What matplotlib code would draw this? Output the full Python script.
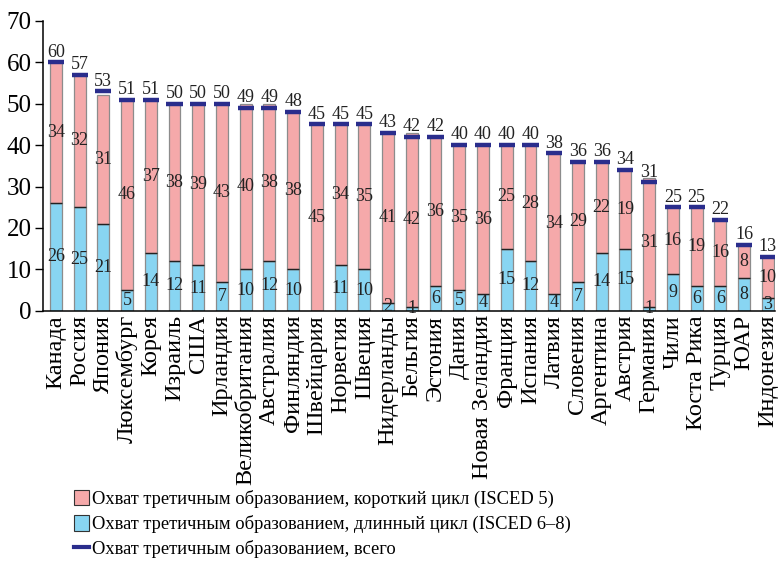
import matplotlib
matplotlib.use("Agg")
import matplotlib.pyplot as plt
from matplotlib.patches import Patch
from matplotlib.lines import Line2D
import numpy as np

countries = ["Канада", "Россия", "Япония", "Люксембург", "Корея", "Израиль", "США",
             "Ирландия", "Великобритания", "Австралия", "Финляндия", "Швейцария",
             "Норвегия", "Швеция", "Нидерланды", "Бельгия", "Эстония", "Дания",
             "Новая Зеландия", "Франция", "Испания", "Латвия", "Словения",
             "Аргентина", "Австрия", "Германия", "Чили", "Коста Рика", "Турция",
             "ЮАР", "Индонезия"]
long_cycle = [26, 25, 21, 5, 14, 12, 11, 7, 10, 12, 10, 0, 11, 10, 2, 1, 6, 5, 4,
              15, 12, 4, 7, 14, 15, 1, 9, 6, 6, 8, 3]
short_cycle = [34, 32, 31, 46, 37, 38, 39, 43, 40, 38, 38, 45, 34, 35, 41, 42, 36,
               35, 36, 25, 28, 34, 29, 22, 19, 31, 16, 19, 16, 8, 10]
total = [60, 57, 53, 51, 51, 50, 50, 50, 49, 49, 48, 45, 45, 45, 43, 42, 42, 40,
         40, 40, 40, 38, 36, 36, 34, 31, 25, 25, 22, 16, 13]

legend_labels = ["Охват третичным образованием, короткий цикл (ISCED 5)",
                 "Охват третичным образованием, длинный цикл (ISCED 6–8)",
                 "Охват третичным образованием, всего"]

PINK = "#f5a9aa"
BLUE = "#88d5f2"
NAVY = "#2a2d8c"

plt.rcParams["font.family"] = ["Liberation Serif", "DejaVu Serif"]

fig = plt.figure(figsize=(7.78, 5.62), dpi=100)
ax = fig.add_axes([0.055, 0.447, 0.941, 0.516])

x = np.arange(len(countries))
w = 0.5
lc = np.array(long_cycle, dtype=float)
sc = np.array(short_cycle, dtype=float)
tt = np.array(total, dtype=float)

ax.bar(x, lc, width=w, color=BLUE, edgecolor="#8c8c8c", linewidth=0.9, zorder=2)
ax.bar(x, sc, width=w, bottom=lc, color=PINK, edgecolor="#8c8c8c", linewidth=0.9, zorder=2)
ax.hlines(lc, x - w / 2, x + w / 2, color="#222222", linewidth=1.0, zorder=3)
ax.hlines(tt, x - 0.34, x + 0.34, color=NAVY, linewidth=3.2, zorder=4)

fs = 13
for xi, l, s, t in zip(x, lc, sc, tt):
    if l > 0:
        ax.text(xi, l / 2, f"{int(l)}", ha="center", va="center", fontsize=fs,
                color="#222222", zorder=5)
    ax.text(xi, l + s / 2, f"{int(s)}", ha="center", va="center", fontsize=fs,
            color="#222222", zorder=5)
    ax.text(xi, t + 0.4, f"{int(t)}", ha="center", va="bottom", fontsize=fs,
            color="#222222", zorder=5)

ax.set_ylim(0, 70)
ax.set_xlim(-0.55, len(countries) - 0.7)
ax.set_yticks(range(0, 71, 10))
ax.tick_params(axis="y", direction="out", length=6, width=1, labelsize=18, pad=2)
ax.set_xticks(x)
ax.set_xticklabels(countries, rotation=90, fontsize=17.5)
ax.tick_params(axis="x", length=0, pad=3)
for s in ["top", "right"]:
    ax.spines[s].set_visible(False)
ax.spines["left"].set_linewidth(1.1)
ax.spines["bottom"].set_linewidth(1.1)

handles = [Patch(facecolor=PINK, edgecolor="#333333", linewidth=0.8),
           Patch(facecolor=BLUE, edgecolor="#333333", linewidth=0.8),
           Line2D([0], [0], color=NAVY, linewidth=3)]
fig.legend(handles, legend_labels, loc="upper left", bbox_to_anchor=(0.095, 0.128),
           frameon=False, fontsize=13.3, handlelength=0.8, handleheight=0.9,
           handletextpad=0.2, labelspacing=0.38, borderpad=0, borderaxespad=0)

fig.savefig("out.png", dpi=100)
